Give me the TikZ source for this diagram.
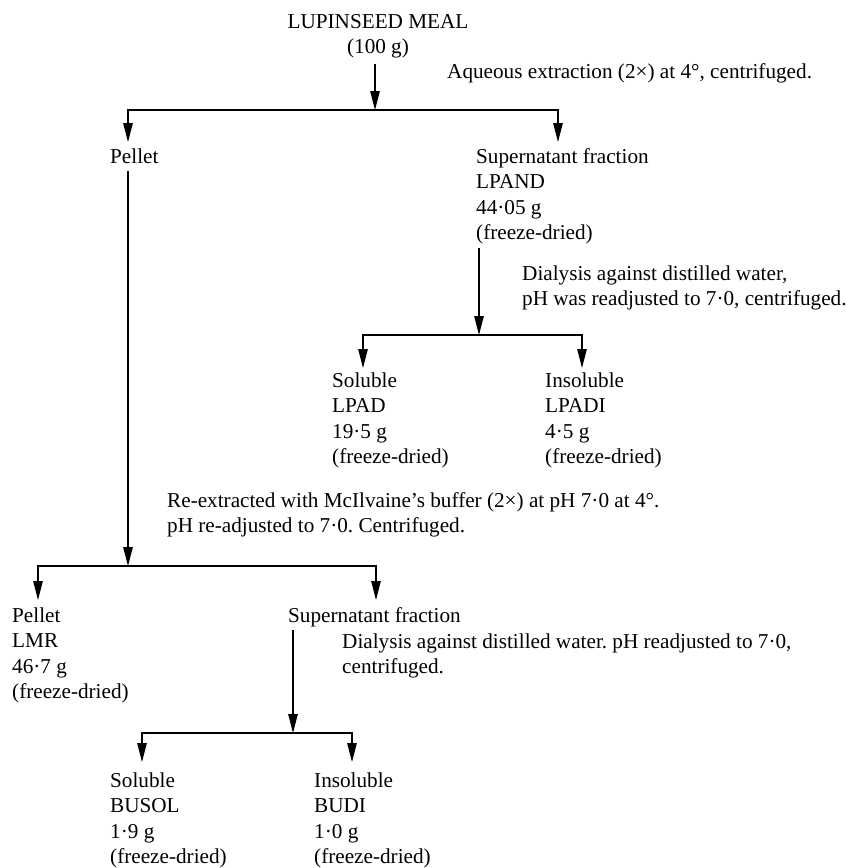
\documentclass[tikz,border=0pt]{standalone}
\usepackage{fontspec}
\setmainfont{Liberation Serif}
\usetikzlibrary{arrows.meta}
\frenchspacing

\begin{document}
\begin{tikzpicture}[x=1pt,y=-1pt,
		txt/.style={font=\fontsize{21.2}{25.5}\selectfont, inner sep=0pt, align=left, anchor=north west},
		arr/.style={line width=1.1pt, line join=miter, -{Triangle[length=19pt,width=9.5pt]}}]
		\useasboundingbox (0,0) rectangle (846,868);
		% junctions and arrow tips
		\coordinate (j1) at (375,110);
		\coordinate (t1a) at (128,142);
		\coordinate (t1b) at (558,142);
		\coordinate (j2) at (479,335);
		\coordinate (t2a) at (363,368);
		\coordinate (t2b) at (582,368);
		\coordinate (j3) at (128,566);
		\coordinate (t3a) at (38,600);
		\coordinate (t3b) at (376,600);
		\coordinate (j4) at (293,733);
		\coordinate (t4a) at (142,762);
		\coordinate (t4b) at (352,762);
		% texts
		\node[txt, anchor=north, align=center] (meal) at (378,10) {\strut LUPINSEED MEAL\\(100 g)};
		\node[txt] (aqu) at (447,60) {\strut Aqueous extraction (2×) at 4°, centrifuged.};
		\node[txt] (pel1) at (110,145) {\strut Pellet};
		\node[txt] (sup1) at (476,145) {\strut Supernatant fraction\\LPAND\\44·05 g\\(freeze-dried)};
		\node[txt] (dia1) at (522,262) {\strut Dialysis against distilled water,\\pH was readjusted to 7·0, centrifuged.};
		\node[txt] (sol1) at (332,369) {\strut Soluble\\LPAD\\19·5 g\\(freeze-dried)};
		\node[txt] (ins1) at (545,369) {\strut Insoluble\\LPADI\\4·5 g\\(freeze-dried)};
		\node[txt] (rex) at (167,489) {\strut Re-extracted with McIlvaine’s buffer (2×) at pH 7·0 at 4°.\\pH re-adjusted to 7·0. Centrifuged.};
		\node[txt] (pel2) at (12,604) {\strut Pellet\\LMR\\46·7 g\\(freeze-dried)};
		\node[txt] (sup2) at (288,604) {\strut Supernatant fraction};
		\node[txt] (dia2) at (342,630) {\strut Dialysis against distilled water. pH readjusted to 7·0,\\centrifuged.};
		\node[txt] (sol2) at (110,769) {\strut Soluble\\BUSOL\\1·9 g\\(freeze-dried)};
		\node[txt] (ins2) at (314,769) {\strut Insoluble\\BUDI\\1·0 g\\(freeze-dried)};
		% connectors
		\draw[arr] ([yshift=-6pt]meal.south -| j1) -- (j1);
		\draw[arr] (j1) -| (t1a);
		\draw[arr] (j1) -| (t1b);
		\draw[arr] ([yshift=-4pt]sup1.south -| j2) -- (j2);
		\draw[arr] (j2) -| (t2a);
		\draw[arr] (j2) -| (t2b);
		\draw[arr] (pel1.south -| j3) -- (j3);
		\draw[arr] (j3) -| (t3a);
		\draw[arr] (j3) -| (t3b);
		\draw[arr] (sup2.south -| j4) -- (j4);
		\draw[arr] (j4) -| (t4a);
		\draw[arr] (j4) -| (t4b);
	\end{tikzpicture}
\end{document}
